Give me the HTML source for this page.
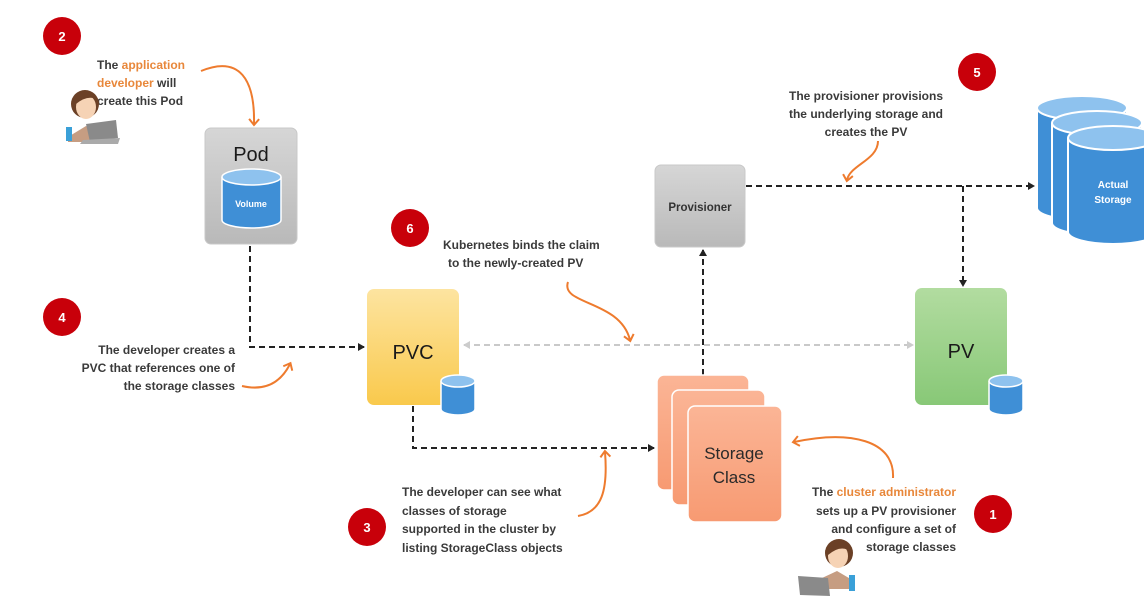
<!DOCTYPE html>
<html><head><meta charset="utf-8"><style>
html,body{margin:0;padding:0;background:#fff;}
svg{display:block;}
text{font-family:"Liberation Sans",sans-serif;}
.t{font-size:12px;font-weight:bold;fill:#3a3a3a;}
.o{fill:#e8873a;}
.n{font-size:13px;font-weight:bold;fill:#fff;}
</style></head><body>
<svg width="1144" height="606" viewBox="0 0 1144 606" xmlns="http://www.w3.org/2000/svg">
<defs>
<marker id="ab" markerWidth="8" markerHeight="8" refX="6" refY="4" orient="auto" markerUnits="userSpaceOnUse"><path d="M0,0 L7,4 L0,8 z" fill="#222"/></marker>
<marker id="ag" markerWidth="8" markerHeight="8" refX="6" refY="4" orient="auto-start-reverse" markerUnits="userSpaceOnUse"><path d="M0,0 L7,4 L0,8 z" fill="#ccc"/></marker>
<marker id="ao" markerWidth="12" markerHeight="12" refX="6" refY="6" orient="auto" markerUnits="userSpaceOnUse"><path d="M1,1 L7,6 L1,11" fill="none" stroke="#ee7b2e" stroke-width="2"/></marker>
<linearGradient id="gy" x1="0" y1="0" x2="0" y2="1"><stop offset="0" stop-color="#d6d6d6"/><stop offset="1" stop-color="#b9b9b9"/></linearGradient>
<linearGradient id="yl" x1="0" y1="0" x2="0" y2="1"><stop offset="0" stop-color="#fde4a0"/><stop offset="1" stop-color="#f9c94c"/></linearGradient>
<linearGradient id="gr" x1="0" y1="0" x2="0" y2="1"><stop offset="0" stop-color="#b2dca0"/><stop offset="1" stop-color="#88c877"/></linearGradient>
<linearGradient id="or" x1="0" y1="0" x2="0" y2="1"><stop offset="0" stop-color="#fbb596"/><stop offset="1" stop-color="#f79a72"/></linearGradient>
<g id="cyl">
<path d="M0,6 L0,34 A17,6 0 0 0 34,34 L34,6" fill="#3f8fd6" stroke="#fff" stroke-width="1.5"/>
<ellipse cx="17" cy="6" rx="17" ry="6" fill="#8ec2ee" stroke="#fff" stroke-width="1.5"/>
</g>
</defs>

<g stroke="#222" stroke-width="2" stroke-dasharray="6,4" fill="none">
<path d="M250,246 V347 H364" marker-end="url(#ab)"/>
<path d="M413,406 V448 H654" marker-end="url(#ab)"/>
<path d="M703,375 V250" marker-end="url(#ab)"/>
<path d="M746,186 H1034" marker-end="url(#ab)"/>
<path d="M963,186 V286" marker-end="url(#ab)"/>
</g>
<path d="M464,345 H913" stroke="#c9c9c9" stroke-width="2" stroke-dasharray="6,4" marker-start="url(#ag)" marker-end="url(#ag)" fill="none"/>

<g stroke="#ee7b2e" stroke-width="2" fill="none">
<path d="M201,71 C240,55 255,80 254,124" marker-end="url(#ao)"/>
<path d="M242,386 C268,392 282,380 290,364" marker-end="url(#ao)"/>
<path d="M568,282 C560,305 620,300 630,340" marker-end="url(#ao)"/>
<path d="M878,141 C878,160 850,165 847,180" marker-end="url(#ao)"/>
<path d="M578,516 C602,512 608,490 605,452" marker-end="url(#ao)"/>
<path d="M893,478 C895,440 850,430 794,442" marker-end="url(#ao)"/>
</g>

<rect x="205" y="128" width="92" height="116" rx="6" fill="url(#gy)" stroke="#c8c8c8"/>
<text x="251" y="161" font-size="20" text-anchor="middle" fill="#1a1a1a">Pod</text>
<path d="M222,177 L222,220 A29.5,8 0 0 0 281,220 L281,177" fill="#3f8fd6" stroke="#fff" stroke-width="1.5"/>
<ellipse cx="251.5" cy="177" rx="29.5" ry="8" fill="#8ec2ee" stroke="#fff" stroke-width="1.5"/>
<text x="251" y="207" font-size="9" text-anchor="middle" fill="#fff" font-weight="bold">Volume</text>

<rect x="367" y="289" width="92" height="116" rx="7" fill="url(#yl)"/>
<text x="413" y="359" font-size="20" text-anchor="middle" fill="#1a1a1a">PVC</text>
<use href="#cyl" transform="translate(441,375)"/>

<rect x="915" y="288" width="92" height="117" rx="7" fill="url(#gr)"/>
<text x="961" y="358" font-size="20" text-anchor="middle" fill="#1a1a1a">PV</text>
<use href="#cyl" transform="translate(989,375)"/>

<rect x="655" y="165" width="90" height="82" rx="6" fill="url(#gy)" stroke="#c8c8c8"/>
<text x="700" y="211" font-size="11.5" font-weight="bold" text-anchor="middle" fill="#333">Provisioner</text>

<rect x="657" y="375" width="92" height="115" rx="7" fill="url(#or)" stroke="#fff" stroke-width="1.5"/>
<rect x="672" y="390" width="93" height="115" rx="7" fill="url(#or)" stroke="#fff" stroke-width="1.5"/>
<rect x="688" y="406" width="94" height="116" rx="7" fill="url(#or)" stroke="#fff" stroke-width="1.5"/>
<text x="734" y="459" font-size="17" text-anchor="middle" fill="#2a2a2a">Storage</text>
<text x="734" y="483" font-size="17" text-anchor="middle" fill="#2a2a2a">Class</text>

<g stroke="#fff" stroke-width="2">
<path d="M1037,108 V208 A45,12 0 0 0 1127,208 V108" fill="#3f8fd6"/>
<ellipse cx="1082" cy="108" rx="45" ry="12" fill="#8ec2ee"/>
<path d="M1052,123 V223 A45,12 0 0 0 1142,223 V123" fill="#3f8fd6"/>
<ellipse cx="1097" cy="123" rx="45" ry="12" fill="#8ec2ee"/>
<path d="M1068,138 V232 A45,12 0 0 0 1158,232 V138" fill="#3f8fd6"/>
<ellipse cx="1113" cy="138" rx="45" ry="12" fill="#8ec2ee"/>
</g>
<text x="1113" y="188" font-size="10" font-weight="bold" fill="#fff" text-anchor="middle">Actual</text>
<text x="1113" y="203" font-size="10" font-weight="bold" fill="#fff" text-anchor="middle">Storage</text>

<g fill="#c8000a">
<circle cx="62" cy="36" r="19"/><circle cx="62" cy="317" r="19"/><circle cx="410" cy="228" r="19"/>
<circle cx="977" cy="72" r="19"/><circle cx="367" cy="527" r="19"/><circle cx="993" cy="514" r="19"/>
</g>
<g text-anchor="middle">
<text x="62" y="41" class="n">2</text><text x="62" y="322" class="n">4</text><text x="410" y="233" class="n">6</text>
<text x="977" y="77" class="n">5</text><text x="367" y="532" class="n">3</text><text x="993" y="519" class="n">1</text>
</g>

<text class="t" x="97" y="69">The <tspan class="o">application</tspan></text>
<text class="t" x="97" y="87"><tspan class="o">developer</tspan> will</text>
<text class="t" x="97" y="105">create this Pod</text>

<text class="t" x="235" y="354" text-anchor="end">The developer creates a</text>
<text class="t" x="235" y="372" text-anchor="end">PVC that references one of</text>
<text class="t" x="235" y="390" text-anchor="end">the storage classes</text>

<text class="t" x="443" y="249">Kubernetes binds the claim</text>
<text class="t" x="448" y="267">to the newly-created PV</text>

<text class="t" x="866" y="100" text-anchor="middle">The provisioner provisions</text>
<text class="t" x="866" y="118" text-anchor="middle">the underlying storage and</text>
<text class="t" x="866" y="136" text-anchor="middle">creates the PV</text>

<text class="t" x="402" y="496">The developer can see what</text>
<text class="t" x="402" y="515">classes of storage</text>
<text class="t" x="402" y="533">supported in the cluster by</text>
<text class="t" x="402" y="552">listing StorageClass objects</text>

<text class="t" x="956" y="496" text-anchor="end">The <tspan class="o">cluster administrator</tspan></text>
<text class="t" x="956" y="515" text-anchor="end">sets up a PV provisioner</text>
<text class="t" x="956" y="533" text-anchor="end">and configure a set of</text>
<text class="t" x="956" y="551" text-anchor="end">storage classes</text>

<g transform="translate(58,82)">
<path d="M10,55 L28,44 L45,55 L45,60 L10,60z" fill="#c69d82"/>
<circle cx="27" cy="22" r="14" fill="#6b4026"/>
<ellipse cx="28" cy="25" rx="10" ry="12" fill="#f6d3b5"/>
<path d="M14,20 Q27,2 40,18 Q30,12 18,22z" fill="#6b4026"/>
<rect x="8" y="45" width="6" height="14" fill="#3aa0d8"/>
<path d="M28,42 L58,38 L60,56 L32,60z" fill="#8a8a8a"/>
<path d="M25,58 L62,56 L60,62 L22,62z" fill="#aaa"/>
</g>
<g transform="translate(792,533)">
<path d="M30,45 L45,38 L62,48 L62,56 L30,56z" fill="#c69d82"/>
<circle cx="47" cy="20" r="14" fill="#6b4026"/>
<ellipse cx="46" cy="23" rx="10" ry="12" fill="#f6d3b5"/>
<path d="M33,18 Q46,2 60,20 Q50,10 36,22z" fill="#6b4026"/>
<rect x="57" y="42" width="6" height="16" fill="#3aa0d8"/>
<path d="M6,43 L36,45 L38,63 L8,62z" fill="#8a8a8a"/>
</g>
</svg>
</body></html>
